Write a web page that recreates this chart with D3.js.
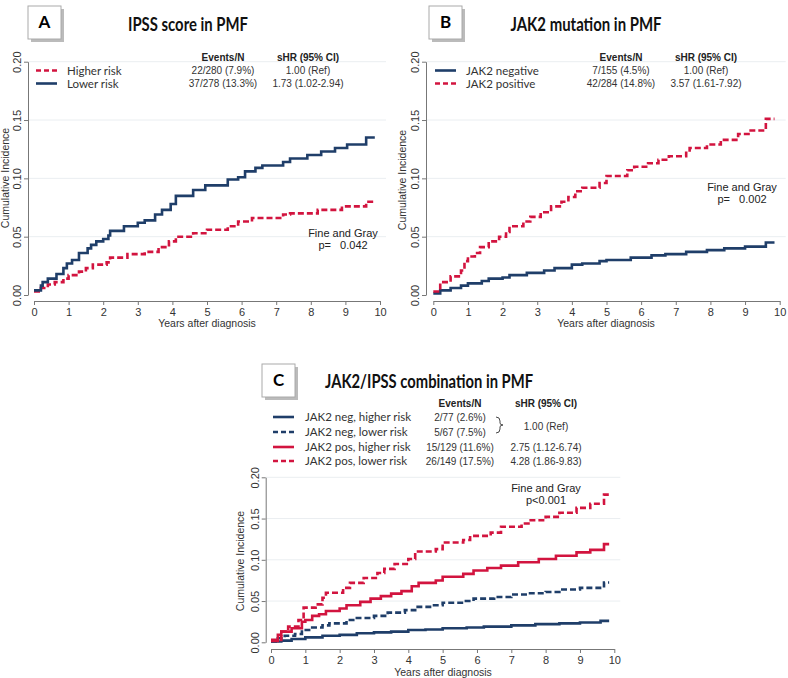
<!DOCTYPE html>
<html>
<head>
<meta charset="utf-8">
<script src="https://d3js.org/d3.v7.min.js"></script>
<style>
  body { margin: 0; background: #fff; }
  svg { display: block; }
</style>
</head>
<body>
<svg id="chart" width="788" height="678"></svg>
<script>
const svg = d3.select('#chart')
const navy = '#1f3e69'
const red = '#d2143f'
const labelFont = 'Lato, "Open Sans", sans-serif'
const numFont = '"Liberation Sans", Arial, sans-serif'

// axis ticks
const yearTicks = [0, 1, 2, 3, 4, 5, 6, 7, 8, 9, 10]
const incTicks = [0, 0.05, 0.10, 0.15, 0.20]
const lastYear = 9.85

// step points [year, cumulative incidence]
const ipssHigher = [[0,0.003],[0.2,0.006],[0.4,0.009],[0.6,0.011],[0.85,0.014],[1.0,0.017],[1.3,0.020],[1.5,0.023],[1.7,0.026],[2.1,0.028],[2.2,0.032],[2.7,0.035],[3.2,0.037],[3.6,0.041],[3.9,0.046],[4.1,0.050],[4.6,0.053],[5.0,0.056],[5.6,0.059],[5.9,0.063],[6.3,0.066],[7.2,0.069],[7.4,0.070],[8.2,0.073],[8.9,0.076],[9.6,0.080]]
const ipssLower = [[0,0.004],[0.2,0.008],[0.25,0.011],[0.4,0.014],[0.65,0.018],[0.85,0.023],[0.95,0.027],[1.1,0.030],[1.3,0.036],[1.55,0.040],[1.65,0.043],[1.8,0.046],[2.0,0.048],[2.15,0.051],[2.2,0.055],[2.6,0.059],[3.0,0.062],[3.2,0.064],[3.5,0.069],[3.7,0.073],[3.95,0.078],[4.1,0.085],[4.6,0.090],[4.95,0.094],[5.6,0.099],[5.9,0.101],[6.1,0.106],[6.4,0.109],[6.6,0.111],[7.2,0.114],[7.4,0.117],[7.9,0.120],[8.3,0.123],[8.7,0.126],[9.05,0.129],[9.6,0.135]]

const jak2Neg = [[0,0.0014],[0.2,0.004],[0.5,0.006],[0.8,0.008],[1.0,0.010],[1.4,0.012],[1.6,0.014],[2.0,0.015],[2.2,0.017],[2.7,0.019],[3.2,0.021],[3.5,0.023],[4.0,0.026],[4.3,0.027],[4.8,0.029],[5.0,0.030],[5.7,0.032],[6.3,0.034],[6.7,0.035],[7.3,0.037],[7.9,0.0385],[8.4,0.040],[9.0,0.0415],[9.6,0.045]]
const jak2Pos = [[0,0.003],[0.2,0.011],[0.5,0.016],[0.8,0.021],[0.9,0.029],[1.0,0.033],[1.2,0.036],[1.35,0.041],[1.6,0.046],[1.9,0.050],[2.1,0.054],[2.2,0.059],[2.6,0.063],[2.8,0.067],[3.1,0.071],[3.4,0.076],[3.7,0.080],[3.9,0.084],[4.1,0.089],[4.3,0.092],[4.8,0.096],[5.0,0.102],[5.6,0.107],[5.8,0.110],[6.2,0.113],[6.5,0.116],[6.8,0.119],[7.3,0.122],[7.4,0.126],[7.9,0.129],[8.3,0.133],[8.8,0.138],[9.1,0.141],[9.6,0.151]]

const negHigher = [[0,0.001],[0.3,0.002],[0.6,0.004],[1.0,0.006],[1.5,0.008],[2.0,0.009],[2.5,0.011],[3.0,0.012],[3.5,0.013],[4.0,0.015],[4.5,0.0155],[5.0,0.017],[5.7,0.018],[6.2,0.019],[7.0,0.0205],[7.7,0.022],[8.4,0.023],[9.0,0.024],[9.6,0.026]]
const negLower = [[0,0.001],[0.2,0.005],[0.4,0.008],[0.7,0.010],[0.9,0.015],[1.2,0.018],[1.5,0.0205],[1.7,0.023],[2.2,0.027],[2.5,0.0295],[3.0,0.032],[3.4,0.036],[3.9,0.039],[4.2,0.043],[4.7,0.045],[5.0,0.048],[5.6,0.050],[5.9,0.053],[6.5,0.055],[7.0,0.058],[7.5,0.0595],[8.0,0.061],[8.4,0.064],[9.0,0.066],[9.7,0.0725]]
const posHigher = [[0,0.0016],[0.2,0.009],[0.3,0.013],[0.6,0.017],[0.9,0.025],[1.0,0.027],[1.2,0.032],[1.4,0.034],[1.6,0.038],[2.0,0.041],[2.2,0.045],[2.6,0.049],[2.9,0.053],[3.2,0.056],[3.5,0.059],[3.8,0.062],[4.1,0.068],[4.3,0.072],[4.8,0.075],[5.0,0.0795],[5.6,0.083],[5.9,0.087],[6.3,0.090],[6.7,0.093],[7.2,0.097],[7.8,0.101],[8.3,0.105],[8.9,0.109],[9.3,0.112],[9.7,0.119]]
const posLower = [[0,0.003],[0.3,0.013],[0.5,0.019],[0.8,0.027],[0.95,0.042],[1.3,0.046],[1.5,0.054],[1.6,0.060],[2.1,0.066],[2.3,0.072],[2.7,0.078],[3.1,0.084],[3.3,0.089],[3.6,0.095],[4.0,0.101],[4.2,0.110],[4.8,0.113],[5.0,0.121],[5.6,0.124],[5.8,0.129],[6.4,0.133],[6.7,0.140],[7.3,0.144],[7.5,0.148],[8.0,0.152],[8.4,0.157],[8.9,0.163],[9.3,0.168],[9.7,0.179]]

// legend texts
const legendA = ['Higher risk', 'Lower risk']
const eventsA = ['22/280 (7.9%)', '37/278 (13.3%)']
const shrA = ['1.00 (Ref)', '1.73 (1.02-2.94)']
const legendB = ['JAK2 negative', 'JAK2 positive']
const eventsB = ['7/155 (4.5%)', '42/284 (14.8%)']
const shrB = ['1.00 (Ref)', '3.57 (1.61-7.92)']
const legendC = ['JAK2 neg, higher risk', 'JAK2 neg, lower risk', 'JAK2 pos, higher risk', 'JAK2 pos, lower risk']
const eventsC = ['2/77 (2.6%)', '5/67 (7.5%)', '15/129 (11.6%)', '26/149 (17.5%)']
const shrC = ['1.00 (Ref)', '2.75 (1.12-6.74)', '4.28 (1.86-9.83)']

// draws one panel: box letter, title, axes, curves, legend
function drawPanel(p) {
  const g = svg.append('g')
  const x = d3.scaleLinear().domain([0, 10]).range(p.xr)
  const y = d3.scaleLinear().domain([0, 0.2]).range(p.yr)

  // letter box with shadow
  g.append('rect').attr('x', p.box[0] + 3).attr('y', p.box[1] + 3)
    .attr('width', 33).attr('height', 33).attr('fill', '#bbb')
  g.append('rect').attr('x', p.box[0]).attr('y', p.box[1])
    .attr('width', 33).attr('height', 33).attr('fill', '#fff')
    .attr('stroke', '#aaa').attr('stroke-width', 1)
  g.append('text').attr('x', p.box[0] + 16.5).attr('y', p.box[1] + 22)
    .attr('text-anchor', 'middle').style('font-family', labelFont)
    .style('font-weight', 'bold').style('font-size', '17px').text(p.letter)
  // title, squeezed to the narrow width of the original face
  g.append('text').attr('x', p.title[0]).attr('y', p.title[1])
    .attr('text-anchor', 'middle').style('font-family', labelFont)
    .style('font-weight', 'bold').style('font-size', '18px')
    .attr('textLength', p.title[2]).attr('lengthAdjust', 'spacingAndGlyphs')
    .attr('fill', '#111').text(p.titleText)

  // grid
  g.selectAll('line.grid').data(incTicks.slice(1)).enter().append('line')
    .attr('x1', p.axisX).attr('x2', x(10) + 6)
    .attr('y1', d => y(d)).attr('y2', d => y(d))
    .attr('stroke', '#eaeef1').attr('stroke-width', 1)

  // y axis
  const yAxis = g.append('g').attr('transform', `translate(${p.axisX},0)`)
    .call(d3.axisLeft(y).tickValues(incTicks).tickFormat(d3.format('.2f')).tickSize(4).tickSizeOuter(0))
  yAxis.selectAll('text')
    .attr('transform', 'translate(-7,0) rotate(-90)')
    .attr('x', 0).attr('y', 0).attr('dy', 0)
    .attr('text-anchor', 'middle')
  // x axis
  g.append('g').attr('transform', `translate(0,${p.axisY})`)
    .call(d3.axisBottom(x).tickValues(yearTicks).tickSize(4).tickSizeOuter(0))
  g.selectAll('.domain, .tick line').attr('stroke', '#777')
  g.selectAll('.tick text').attr('fill', '#333')
    .style('font-family', numFont).style('font-size', '11px')

  g.append('text')
    .attr('transform', `translate(${p.yTitle[0]},${p.yTitle[1]}) rotate(-90)`)
    .attr('text-anchor', 'middle').style('font-family', numFont)
    .style('font-size', '10.5px').attr('fill', '#333').text('Cumulative Incidence')
  g.append('text').attr('x', p.xTitle[0]).attr('y', p.xTitle[1])
    .attr('text-anchor', 'middle').style('font-family', numFont)
    .style('font-size', '10.5px').attr('fill', '#333').text('Years after diagnosis')

  // curves
  const line = d3.line().x(d => x(d[0])).y(d => y(d[1])).curve(d3.curveStepAfter)
  p.series.forEach(s => {
    const pts = s.data.concat([[lastYear, s.data[s.data.length - 1][1]]])
    g.append('path').attr('d', line(pts)).attr('fill', 'none')
      .attr('stroke', s.color).attr('stroke-width', 2.6)
      .attr('stroke-dasharray', s.dashed ? '6,3' : null)
  })

  // Fine and Gray note
  g.append('text').attr('x', p.fg[0]).attr('y', p.fg[1])
    .attr('text-anchor', 'middle').style('font-family', numFont)
    .style('font-size', '11px').attr('fill', '#222').text('Fine and Gray')
  g.append('text').attr('x', p.fg[0]).attr('y', p.fg[1] + 11.5)
    .attr('text-anchor', 'middle').style('font-family', numFont)
    .style('font-size', '11px').attr('fill', '#222').style('white-space', 'pre')
    .text(p.pText)

  // legend
  const L = p.legend
  g.append('text').attr('x', L.evX).attr('y', L.headY).attr('text-anchor', 'middle')
    .style('font-family', numFont).style('font-weight', 'bold').style('font-size', '10px')
    .attr('fill', '#222').text('Events/N')
  g.append('text').attr('x', L.shrX).attr('y', L.headY).attr('text-anchor', 'middle')
    .style('font-family', numFont).style('font-weight', 'bold').style('font-size', '10px')
    .attr('fill', '#222').text('sHR (95% CI)')
  p.series.forEach((s, i) => {
    const ry = L.rows[i]
    g.append('line').attr('x1', L.lineX[0]).attr('x2', L.lineX[1])
      .attr('y1', ry).attr('y2', ry).attr('stroke', s.color).attr('stroke-width', 2.6)
      .attr('stroke-dasharray', s.dashed ? '5,3' : null)
    g.append('text').attr('x', L.labelX).attr('y', ry + 4.3)
      .style('font-family', labelFont).style('font-size', '11.5px')
      .attr('fill', '#333')
      .text(L.labels[i])
    g.append('text').attr('x', L.evX).attr('y', ry + 3.5).attr('text-anchor', 'middle')
      .style('font-family', numFont).style('font-size', '10px').attr('fill', '#333')
      .text(L.events[i])
  })
  L.shr.forEach((t, i) => {
    g.append('text').attr('x', L.shrX).attr('y', L.shrY[i] + 3.5).attr('text-anchor', 'middle')
      .style('font-family', numFont).style('font-size', '10px').attr('fill', '#333')
      .text(t)
  })
  if (L.brace) {
    const [bx, by0, by1] = L.brace
    const mid = (by0 + by1) / 2
    g.append('path')
      .attr('d', `M${bx},${by0} q4,0 4,4 v${mid - by0 - 6} q0,2 3,2 q-3,0 -3,2 v${by1 - mid - 6} q0,4 -4,4`)
      .attr('fill', 'none').attr('stroke', '#333').attr('stroke-width', 0.9)
  }
}

drawPanel({
  letter: 'A', titleText: 'IPSS score in PMF', box: [28, 6], title: [188, 31, 120],
  xr: [34, 380], yr: [295, 61.7], axisX: 28, axisY: 301,
  yTitle: [9, 178], xTitle: [207, 327], fg: [343, 237], pText: 'p=   0.042',
  series: [
    { data: ipssHigher, color: red, dashed: true },
    { data: ipssLower, color: navy, dashed: false }
  ],
  legend: { headY: 61, rows: [70.5, 83.5], lineX: [36, 57], labelX: 67, evX: 223, shrX: 308,
    labels: legendA, events: eventsA, shr: shrA, shrY: [70.5, 83.5] }
})

drawPanel({
  letter: 'B', titleText: 'JAK2 mutation in PMF', box: [429, 6], title: [586, 31, 151],
  xr: [433.3, 779.7], yr: [295, 61.7], axisX: 426, axisY: 301,
  yTitle: [406, 180], xTitle: [606, 327], fg: [742, 191], pText: 'p=   0.002',
  series: [
    { data: jak2Neg, color: navy, dashed: false },
    { data: jak2Pos, color: red, dashed: true }
  ],
  legend: { headY: 61, rows: [70.5, 83.5], lineX: [435, 456], labelX: 466, evX: 621, shrX: 706,
    labels: legendB, events: eventsB, shr: shrB, shrY: [70.5, 83.5] }
})

drawPanel({
  letter: 'C', titleText: 'JAK2/IPSS combination in PMF', box: [262, 364], title: [429, 388, 208],
  xr: [271, 614.3], yr: [642.3, 477.3], axisX: 265.7, axisY: 649,
  yTitle: [244, 561], xTitle: [443, 676], fg: [546, 492], pText: 'p<0.001',
  series: [
    { data: negHigher, color: navy, dashed: false },
    { data: negLower, color: navy, dashed: true },
    { data: posHigher, color: red, dashed: false },
    { data: posLower, color: red, dashed: true }
  ],
  legend: { headY: 407, rows: [417, 432, 447, 461], lineX: [273, 294], labelX: 305, evX: 460, shrX: 546,
    labels: legendC, events: eventsC, shr: shrC, shrY: [426, 447, 461], brace: [496, 417, 433] }
})
</script>
</body>
</html>
